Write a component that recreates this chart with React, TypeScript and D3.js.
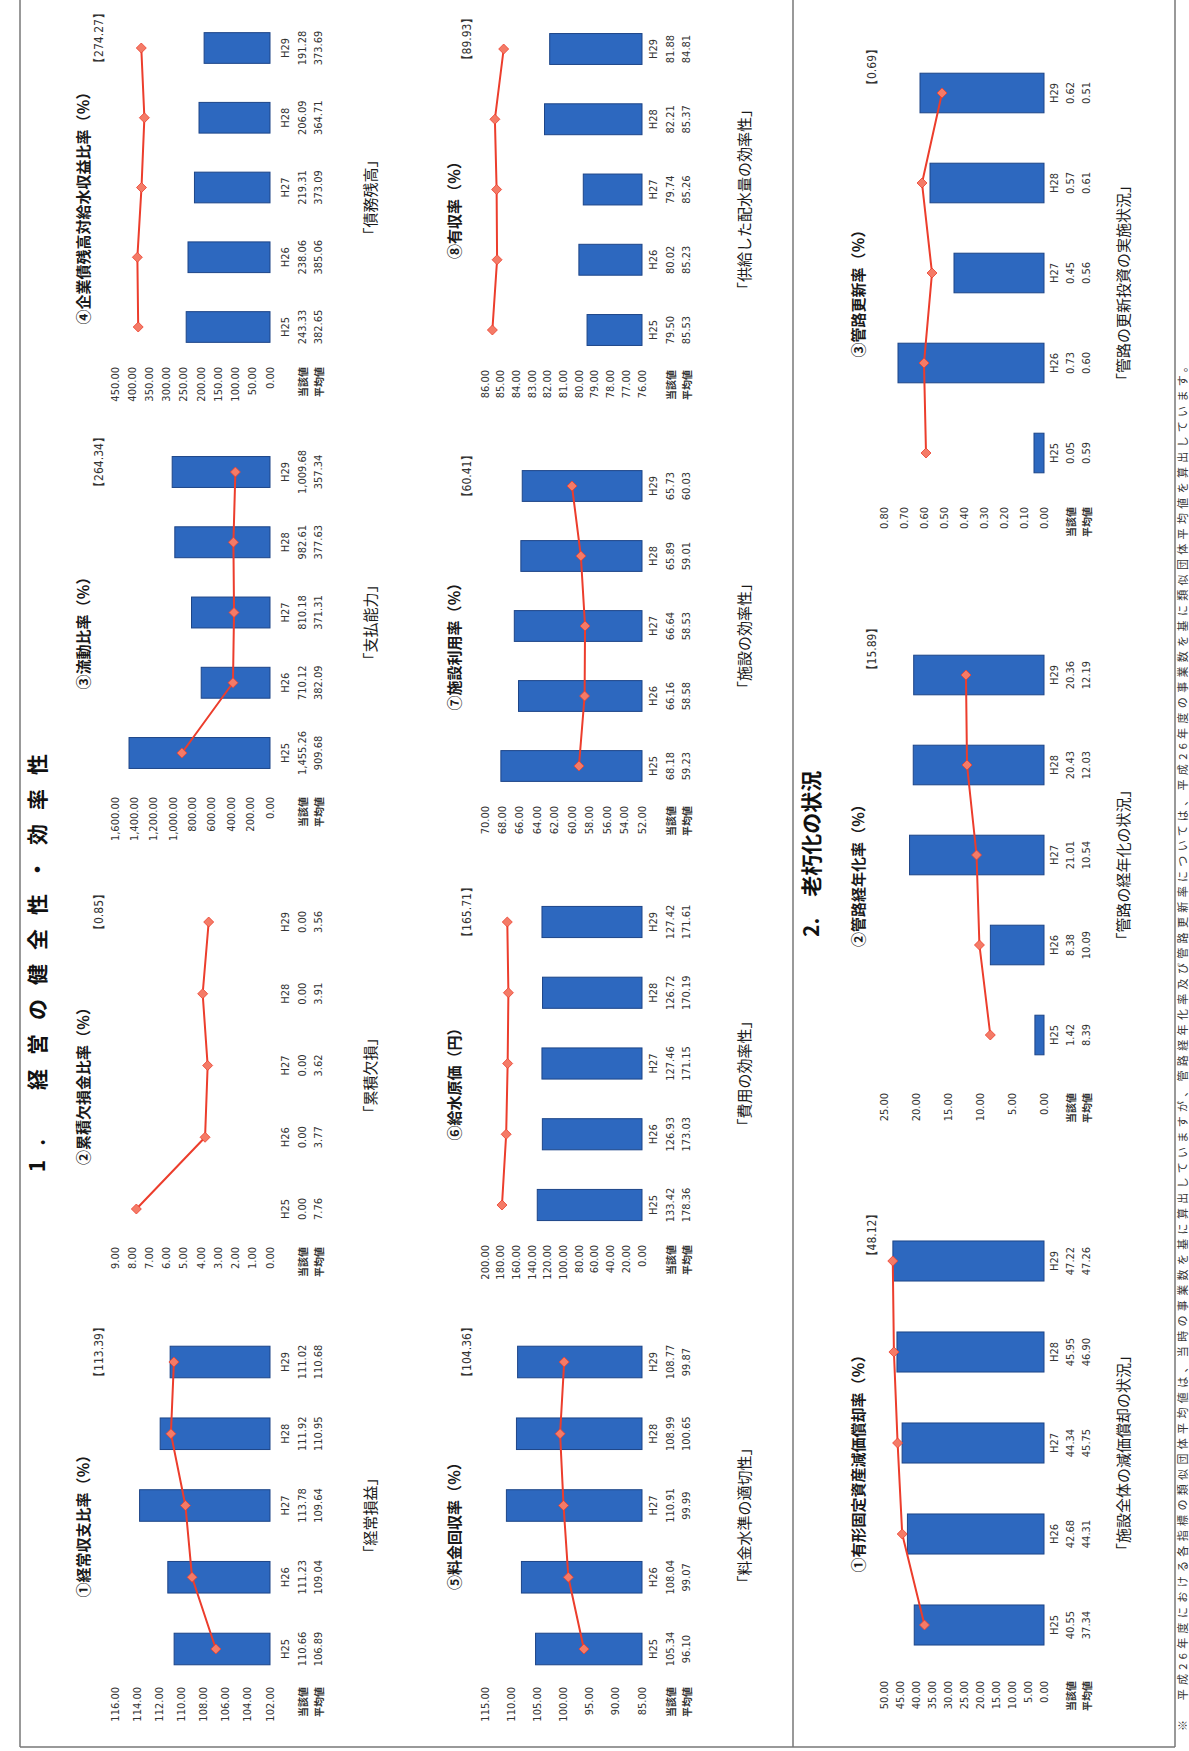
import * as d3 from "d3";

// page is a landscape A4 scan turned on its side
const PAGE_W = 1751;
const PAGE_H = 1189;

const YEARS = ["H25", "H26", "H27", "H28", "H29"];

// 1. 経営の健全性・効率性
const KEIJO_CUR = [110.66, 111.23, 113.78, 111.92, 111.02];
const KEIJO_AVG = [106.89, 109.04, 109.64, 110.95, 110.68];
const RUISEKI_CUR = [0, 0, 0, 0, 0];
const RUISEKI_AVG = [7.76, 3.77, 3.62, 3.91, 3.56];
const RYUDO_CUR = [1455.26, 710.12, 810.18, 982.61, 1009.68];
const RYUDO_AVG = [909.68, 382.09, 371.31, 377.63, 357.34];
const KIGYOSAI_CUR = [243.33, 238.06, 219.31, 206.09, 191.28];
const KIGYOSAI_AVG = [382.65, 385.06, 373.09, 364.71, 373.69];
const RYOKIN_CUR = [105.34, 108.04, 110.91, 108.99, 108.77];
const RYOKIN_AVG = [96.1, 99.07, 99.99, 100.65, 99.87];
const GENKA_CUR = [133.42, 126.93, 127.46, 126.72, 127.42];
const GENKA_AVG = [178.36, 173.03, 171.15, 170.19, 171.61];
const SHISETSU_CUR = [68.18, 66.16, 66.64, 65.89, 65.73];
const SHISETSU_AVG = [59.23, 58.58, 58.53, 59.01, 60.03];
const YUSHU_CUR = [79.5, 80.02, 79.74, 82.21, 81.88];
const YUSHU_AVG = [85.53, 85.23, 85.26, 85.37, 84.81];

// 2. 老朽化の状況
const GENKA_SHOKYAKU_CUR = [40.55, 42.68, 44.34, 45.95, 47.22];
const GENKA_SHOKYAKU_AVG = [37.34, 44.31, 45.75, 46.9, 47.26];
const KEINEN_CUR = [1.42, 8.38, 21.01, 20.43, 20.36];
const KEINEN_AVG = [8.39, 10.09, 10.54, 12.03, 12.19];
const KOSHIN_CUR = [0.05, 0.73, 0.45, 0.57, 0.62];
const KOSHIN_AVG = [0.59, 0.6, 0.56, 0.61, 0.51];

// axis [min, max, step]
const AX_KEIJO = [102, 116, 2];
const AX_RUISEKI = [0, 9, 1];
const AX_RYUDO = [0, 1600, 200];
const AX_KIGYOSAI = [0, 450, 50];
const AX_RYOKIN = [85, 115, 5];
const AX_GENKA = [0, 200, 20];
const AX_SHISETSU = [52, 70, 2];
const AX_YUSHU = [76, 86, 1];
const AX_SHOKYAKU = [0, 50, 5];
const AX_KEINEN = [0, 25, 5];
const AX_KOSHIN = [0, 0.8, 0.1];

const NUM_FONT = "'Liberation Sans Narrow','DejaVu Sans Condensed','Liberation Sans',sans-serif";
const JP_FONT = "'Noto Sans CJK JP',sans-serif";
const BAR = "#2d68bf";
const BAR_EDGE = "#1d4588";
const LINE = "#ec3d2c";
const MARK = "#f47b67";

// row layouts (y = across the page in landscape coordinates)
const ROW1 = { val: [270, 115], rows: [285, 302, 318], titleY: 82, refY: 99, capY: 369, refDx: 10 };
const ROW2 = { val: [642, 485], rows: [653, 670, 686], titleY: 453, refY: 467, capY: 743, refDx: 10 };
const ROW3 = { val: [1044, 884], rows: [1054, 1070, 1086], titleY: 857, refY: 872, capY: 1122, refDx: 26 };

type Spec = {
  title: string; ref: string; caption: string;
  cur: number[]; avg: number[]; axis: number[];
  cats: [number, number]; row: typeof ROW1; axisGap: number;
};

const CHARTS: Spec[] = [
  { title: "①経常収支比率（％）", ref: "【113.39】", caption: "「経常損益」", cur: KEIJO_CUR, avg: KEIJO_AVG, axis: AX_KEIJO, cats: [102, 389], row: ROW1, axisGap: 38 },
  { title: "②累積欠損金比率（％）", ref: "【0.85】", caption: "「累積欠損」", cur: RUISEKI_CUR, avg: RUISEKI_AVG, axis: AX_RUISEKI, cats: [542, 829], row: ROW1, axisGap: 38 },
  { title: "③流動比率（％）", ref: "【264.34】", caption: "「支払能力」", cur: RYUDO_CUR, avg: RYUDO_AVG, axis: AX_RYUDO, cats: [998, 1279], row: ROW1, axisGap: 44 },
  { title: "④企業債残高対給水収益比率（％）", ref: "【274.27】", caption: "「債務残高」", cur: KIGYOSAI_CUR, avg: KIGYOSAI_AVG, axis: AX_KIGYOSAI, cats: [1424, 1703], row: ROW1, axisGap: 40 },
  { title: "⑤料金回収率（％）", ref: "【104.36】", caption: "「料金水準の適切性」", cur: RYOKIN_CUR, avg: RYOKIN_AVG, axis: AX_RYOKIN, cats: [102, 389], row: ROW2, axisGap: 38 },
  { title: "⑥給水原価（円）", ref: "【165.71】", caption: "「費用の効率性」", cur: GENKA_CUR, avg: GENKA_AVG, axis: AX_GENKA, cats: [546, 829], row: ROW2, axisGap: 40 },
  { title: "⑦施設利用率（％）", ref: "【60.41】", caption: "「施設の効率性」", cur: SHISETSU_CUR, avg: SHISETSU_AVG, axis: AX_SHISETSU, cats: [985, 1265], row: ROW2, axisGap: 40 },
  { title: "⑧有収率（％）", ref: "【89.93】", caption: "「供給した配水量の効率性」", cur: YUSHU_CUR, avg: YUSHU_AVG, axis: AX_YUSHU, cats: [1421, 1702], row: ROW2, axisGap: 40 },
  { title: "①有形固定資産減価償却率（％）", ref: "【48.12】", caption: "「施設全体の減価償却の状況」", cur: GENKA_SHOKYAKU_CUR, avg: GENKA_SHOKYAKU_AVG, axis: AX_SHOKYAKU, cats: [126, 490], row: ROW3, axisGap: 56 },
  { title: "②管路経年化率（％）", ref: "【15.89】", caption: "「管路の経年化の状況」", cur: KEINEN_CUR, avg: KEINEN_AVG, axis: AX_KEINEN, cats: [716, 1076], row: ROW3, axisGap: 58 },
  { title: "③管路更新率（％）", ref: "【0.69】", caption: "「管路の更新投資の実施状況」", cur: KOSHIN_CUR, avg: KOSHIN_AVG, axis: AX_KOSHIN, cats: [1298, 1658], row: ROW3, axisGap: 54 },
];

const NOTE = "※　平成26年度における各指標の類似団体平均値は、当時の事業数を基に算出していますが、管路経年化率及び管路更新率については、平成26年度の事業数を基に類似団体平均値を算出しています。";

const fmt = d3.format(",.2f");

function Chart({ s }: { s: Spec }) {
  const [lo, hi, st] = s.axis;
  const step = (s.cats[1] - s.cats[0]) / (YEARS.length - 1);
  const x = d3.scaleBand().domain(YEARS)
    .range([s.cats[0] - step / 2, s.cats[1] + step / 2])
    .paddingInner(0.56).paddingOuter(0.28);
  const y = d3.scaleLinear().domain([lo, hi]).range(s.row.val);
  const ticks = d3.range(lo, hi + st / 2, st);
  const cx = (k: string) => (x(k) ?? 0) + x.bandwidth() / 2;
  const line = d3.line<number>().x((_, i) => cx(YEARS[i])).y(v => y(v));
  const axisX = s.cats[0] - s.axisGap;
  const mid = (s.cats[0] + s.cats[1]) / 2;
  const [rH, rC, rA] = s.row.rows;

  return (
    <g>
      <text x={mid - 17} y={s.row.titleY} textAnchor="middle" dominantBaseline="central"
        fontFamily={JP_FONT} fontSize={15} fontWeight={700} fill="#1a1a1a">{s.title}</text>
      <text x={s.cats[1] + s.row.refDx} y={s.row.refY} textAnchor="middle" dominantBaseline="central"
        fontFamily={NUM_FONT} fontSize={12} fill="#333">{s.ref}</text>

      {ticks.map(t => (
        <text key={t} x={axisX} y={y(t)} textAnchor="end" dominantBaseline="central"
          fontFamily={NUM_FONT} fontSize={11} fill="#333">{fmt(t)}</text>
      ))}
      <text x={axisX} y={rC} textAnchor="end" dominantBaseline="central" fontFamily={JP_FONT} fontSize={10} fontWeight={700} fill="#333">当該値</text>
      <text x={axisX} y={rA} textAnchor="end" dominantBaseline="central" fontFamily={JP_FONT} fontSize={10} fontWeight={700} fill="#333">平均値</text>

      {s.cur.map((v, i) => v > lo ? (
        <rect key={i} x={x(YEARS[i])} y={y(v)} width={x.bandwidth()} height={y(lo) - y(v)}
          fill={BAR} stroke={BAR_EDGE} strokeWidth={1} />
      ) : null)}

      <path d={line(s.avg) ?? ""} fill="none" stroke={LINE} strokeWidth={2} />
      {s.avg.map((v, i) => (
        <path key={i} transform={`translate(${cx(YEARS[i])},${y(v)})`} d="M0,-5L5,0L0,5L-5,0Z" fill={MARK} stroke={LINE} strokeWidth={0.8} />
      ))}

      {YEARS.map((k, i) => (
        <g key={k} fontFamily={NUM_FONT} fontSize={11} fill="#333" textAnchor="middle">
          <text x={cx(k)} y={rH} dominantBaseline="central">{k}</text>
          <text x={cx(k)} y={rC} dominantBaseline="central">{fmt(s.cur[i])}</text>
          <text x={cx(k)} y={rA} dominantBaseline="central">{fmt(s.avg[i])}</text>
        </g>
      ))}

      <text x={mid - 10} y={s.row.capY} textAnchor="middle" dominantBaseline="central"
        fontFamily={JP_FONT} fontSize={15} fill="#1a1a1a">{s.caption}</text>
    </g>
  );
}

export default function App() {
  return (
    <svg width={PAGE_H} height={PAGE_W} viewBox={`0 0 ${PAGE_H} ${PAGE_W}`}
      style={{ position: "absolute", left: 0, top: 0, background: "#fff" }}>
      <rect width={PAGE_H} height={PAGE_W} fill="#fff" />
      <g transform={`translate(0,${PAGE_W}) rotate(-90)`}>
        {/* frame and section divider */}
        <g stroke="#777" strokeWidth={1.5} fill="none">
          <line x1={4} x2={PAGE_W} y1={20} y2={20} />
          <line x1={4} x2={PAGE_W} y1={1175} y2={1175} />
          <line x1={4} x2={4} y1={20} y2={1175} />
          <line x1={4} x2={PAGE_W} y1={793} y2={793} />
        </g>

        <text x={1011} y={36} textAnchor="end" dominantBaseline="central" fontFamily={JP_FONT}
          fontSize={21} fontWeight={700} letterSpacing={14} fill="#111">1.　経営の健全性・効率性</text>
        <text x={814} y={810} dominantBaseline="central" fontFamily={JP_FONT}
          fontSize={21} fontWeight={700} fill="#111">2.　老朽化の状況</text>

        {CHARTS.map((s, i) => <Chart key={i} s={s} />)}

        <text x={20} y={1182} dominantBaseline="central" fontFamily={JP_FONT} fontSize={11}
          textLength={1370} lengthAdjust="spacing" fill="#333">{NOTE}</text>
      </g>
    </svg>
  );
}
